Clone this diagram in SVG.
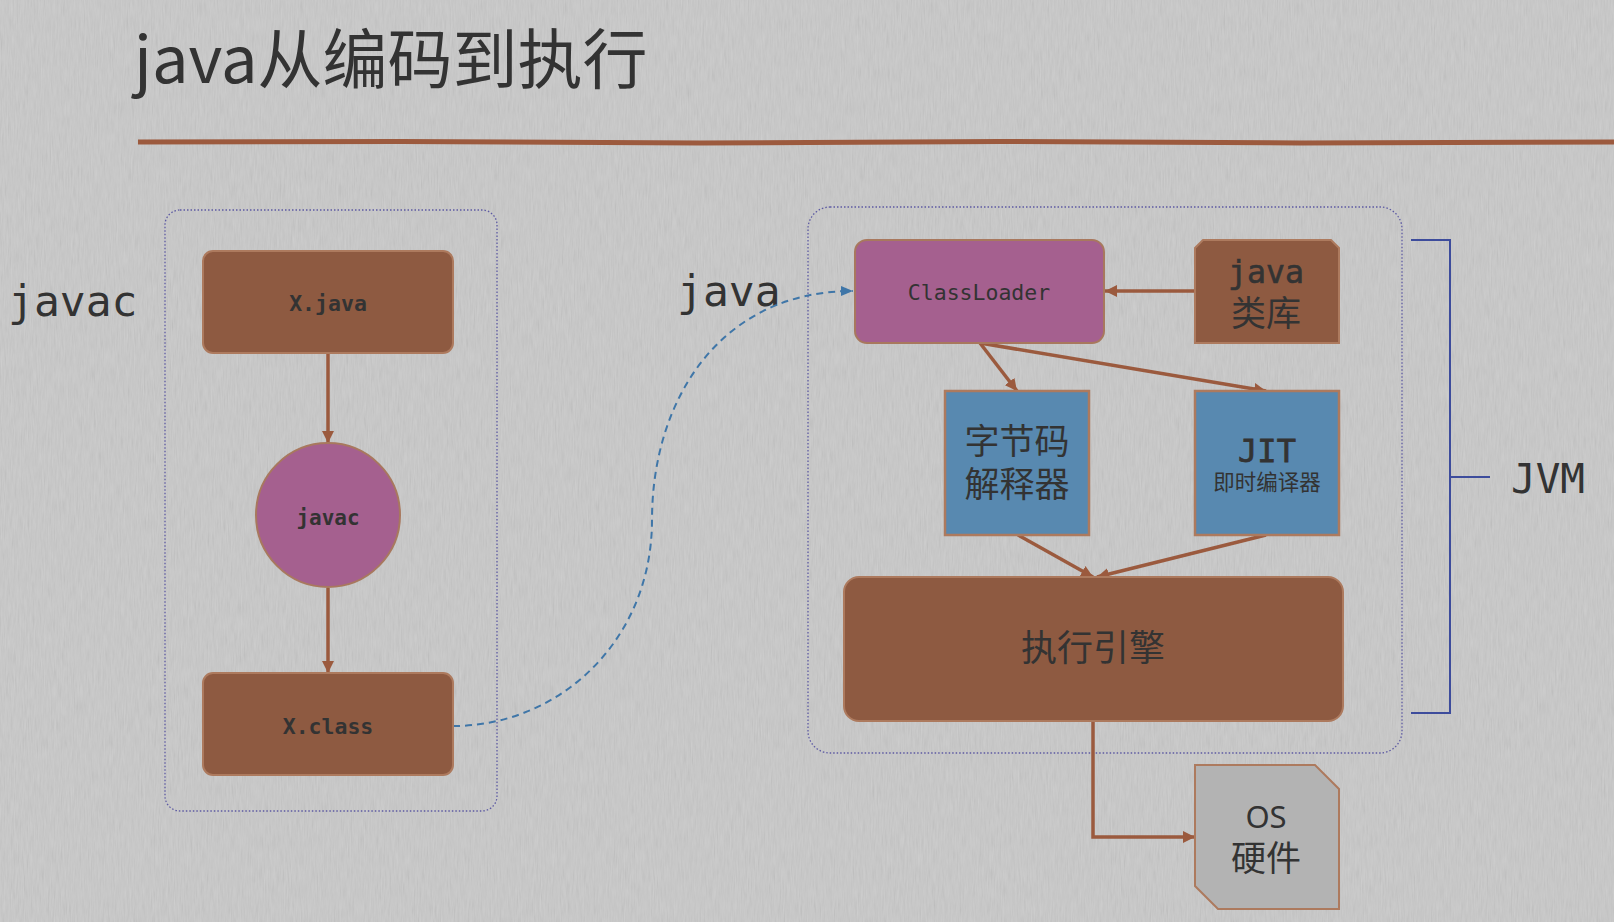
<svg xmlns="http://www.w3.org/2000/svg" width="1614" height="922" viewBox="0 0 1614 922">
<style>
.mono{font-family:"DejaVu Sans Mono","Liberation Mono",monospace;fill:#333}
.cjk{font-family:"Noto Sans CJK SC","Noto Sans",sans-serif;fill:#333}
.brown{fill:#8e5a41;stroke:#ad7a5e;stroke-width:2}
.purple{fill:#a5608f;stroke:#a8785e;stroke-width:2}
.blue{fill:#5889b0;stroke:#ad7a5e;stroke-width:2.5}
.cont{fill:none;stroke:#5d5aa3;stroke-width:1.3;stroke-dasharray:1.5 2}
.edge{fill:none;stroke:#9b5a3e;stroke-width:3.5}
</style>
<defs>
<marker id="ab" viewBox="0 0 12 12" refX="12" refY="6" markerWidth="12" markerHeight="12" markerUnits="userSpaceOnUse" orient="auto">
<path d="M0,0 L12,6 L0,12 Z" fill="#9b5a3e"/>
</marker>
<marker id="abl" viewBox="0 0 12 10" refX="12" refY="5" markerWidth="12" markerHeight="10" markerUnits="userSpaceOnUse" orient="auto">
<path d="M0,0 L12,5 L0,10 Z" fill="#3f76a8"/>
</marker>
<filter id="tex" x="0" y="0" width="100%" height="100%">
<feTurbulence type="fractalNoise" baseFrequency="0.7 0.06" numOctaves="3" seed="7"/>
<feColorMatrix type="matrix" values="0.33 0.33 0.33 0 0  0.33 0.33 0.33 0 0  0.33 0.33 0.33 0 0  0 0 0 0 1"/>
</filter>
</defs>
<rect width="1614" height="922" fill="#cacaca"/>
<rect width="1614" height="922" filter="url(#tex)" opacity="0.16"/>

<g id="title">
<text x="134" y="83" class="cjk" font-size="65" fill="#383838">java从编码到执行</text>
<path d="M138,142 L400,141.5 L700,143 L1000,141.5 L1300,143 L1614,142" stroke="#9c5a3e" stroke-width="5" fill="none"/>
</g>

<g id="containers">
<rect x="165" y="210" width="332" height="601" rx="15" class="cont"/>
<rect x="808" y="207" width="594" height="546" rx="22" class="cont"/>
</g>

<g id="labels">
<text x="8" y="316" class="mono" font-size="43">javac</text>
<text x="677" y="306" class="mono" font-size="43">java</text>
</g>

<g id="jvm-bracket">
<path d="M1411,240 H1450 V713 H1411 M1450,477 H1490" fill="none" stroke="#3d4c9c" stroke-width="2"/>
<text x="1511" y="493" class="mono" font-size="41">JVM</text>
</g>

<g id="connectors">
<line x1="328" y1="353" x2="328" y2="443" class="edge" marker-end="url(#ab)"/>
<line x1="328" y1="588" x2="328" y2="673" class="edge" marker-end="url(#ab)"/>
<path d="M453,726 C560,726 652,640 652,520 C652,400 720,291 853,291" fill="none" stroke="#3f76a8" stroke-width="2" stroke-dasharray="7 5" marker-end="url(#abl)"/>
<line x1="1195" y1="291" x2="1105" y2="291" class="edge" marker-end="url(#ab)"/>
<line x1="980" y1="343" x2="1017" y2="391" class="edge" marker-end="url(#ab)"/>
<line x1="980" y1="343" x2="1266" y2="391" class="edge" marker-end="url(#ab)"/>
<line x1="1018" y1="535" x2="1093" y2="577" class="edge" marker-end="url(#ab)"/>
<line x1="1266" y1="535" x2="1097" y2="577" class="edge" marker-end="url(#ab)"/>
<path d="M1093,721 V837 H1195" class="edge" marker-end="url(#ab)"/>
</g>

<g id="xjava">
<rect x="203" y="251" width="250" height="102" rx="10" class="brown"/>
<text x="328" y="311" class="mono" font-size="21.5" font-weight="bold" text-anchor="middle">X.java</text>
</g>
<g id="javac">
<circle cx="328" cy="515" r="72" class="purple"/>
<text x="328" y="525" class="mono" font-size="21" font-weight="bold" text-anchor="middle">javac</text>
</g>
<g id="xclass">
<rect x="203" y="673" width="250" height="102" rx="10" class="brown"/>
<text x="328" y="734" class="mono" font-size="21.5" font-weight="bold" text-anchor="middle">X.class</text>
</g>

<g id="classloader">
<rect x="855" y="240" width="249" height="103" rx="12" class="purple"/>
<text x="979" y="300" class="mono" font-size="21.5" text-anchor="middle">ClassLoader</text>
</g>
<g id="javalib">
<path d="M1195,248 L1203,240 H1331 L1339,248 V343 H1195 Z" class="brown"/>
<text class="mono" font-size="31.5" text-anchor="middle" stroke="#333" stroke-width="0.6"><tspan x="1266" y="283">java</tspan><tspan x="1266" y="326" class="cjk" font-size="35" stroke="none">类库</tspan></text>
</g>
<g id="interpreter">
<rect x="945" y="391" width="144" height="144" class="blue"/>
<text class="cjk" font-size="35" text-anchor="middle"><tspan x="1017" y="454">字节码</tspan><tspan x="1017" y="497">解释器</tspan></text>
</g>
<g id="jit">
<rect x="1195" y="391" width="144" height="144" class="blue"/>
<text class="mono" font-size="32" text-anchor="middle" stroke="#333" stroke-width="0.8"><tspan x="1267" y="462">JIT</tspan><tspan x="1267" y="490" class="cjk" font-size="21.5" stroke="none">即时编译器</tspan></text>
</g>
<g id="engine">
<rect x="844" y="577" width="499" height="144" rx="15" class="brown"/>
<text x="1093" y="661" class="cjk" font-size="36" text-anchor="middle">执行引擎</text>
</g>
<g id="os">
<path d="M1195,765 H1315 L1339,789 V909 H1218 L1195,886 Z" fill="#b3b3b3" stroke="#ad7a5e" stroke-width="2"/>
<text font-family="Noto Sans, sans-serif" font-size="31" fill="#333" text-anchor="middle"><tspan x="1266" y="828">OS</tspan><tspan x="1266" y="871" class="cjk" font-size="35">硬件</tspan></text>
</g>
</svg>
